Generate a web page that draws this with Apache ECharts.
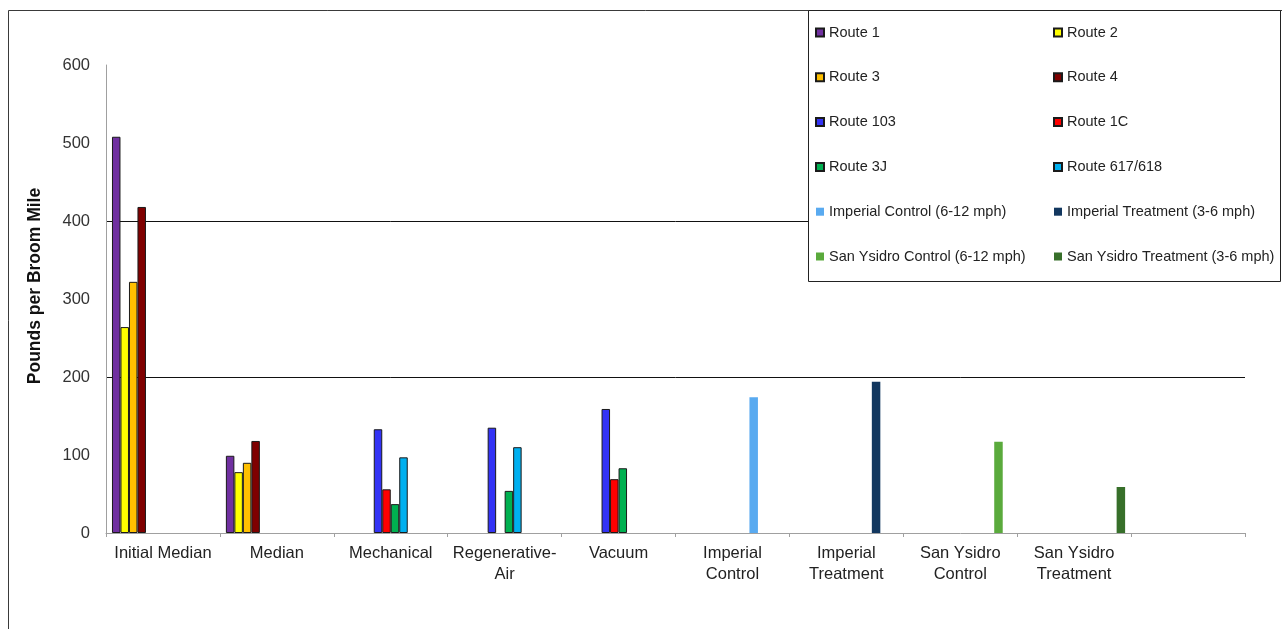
<!DOCTYPE html>
<html>
<head>
<meta charset="utf-8">
<title>Pounds per Broom Mile</title>
<script src="https://cdn.jsdelivr.net/npm/echarts@6/dist/echarts.min.js"></script>
<style>
  html, body { margin: 0; padding: 0; background: #fff; }
  #chart { width: 1282px; height: 629px; }
</style>
</head>
<body>
<div id="chart"></div>
<script>
// categories (last one is an empty slot, as in the original sheet)
const categories = ['Initial Median', 'Median', 'Mechanical', 'Regenerative-\nAir', 'Vacuum',
  'Imperial\nControl', 'Imperial\nTreatment', 'San Ysidro\nControl', 'San Ysidro\nTreatment', '']

// values (pounds per broom mile)
const route1 = [508, 99, null, null, null, null, null, null, null, null]
const route2 = [264, 78, null, null, null, null, null, null, null, null]
const route3 = [322, 90, null, null, null, null, null, null, null, null]
const route4 = [418, 118, null, null, null, null, null, null, null, null]
const route103 = [null, null, 133, 135, 159, null, null, null, null, null]
const route1C = [null, null, 56, null, 69, null, null, null, null, null]
const route3J = [null, null, 37, 54, 83, null, null, null, null, null]
const route617 = [null, null, 97, 110, null, null, null, null, null, null]
const imperialControl = [null, null, null, null, null, 174, null, null, null, null]
const imperialTreatment = [null, null, null, null, null, null, 194, null, null, null]
const sanYsidroControl = [null, null, null, null, null, null, null, 117, null, null]
const sanYsidroTreatment = [null, null, null, null, null, null, null, null, 59, null]

const yTicks = [0, 100, 200, 300, 400, 500, 600]

const seriesDefs = [
  { name: 'Route 1', data: route1, color: '#7030A0', border: true },
  { name: 'Route 2', data: route2, color: '#FFFF00', border: true },
  { name: 'Route 3', data: route3, color: '#FFC000', border: true },
  { name: 'Route 4', data: route4, color: '#7F0000', border: true },
  { name: 'Route 103', data: route103, color: '#3333F5', border: true },
  { name: 'Route 1C', data: route1C, color: '#FF0000', border: true },
  { name: 'Route 3J', data: route3J, color: '#00B050', border: true },
  { name: 'Route 617/618', data: route617, color: '#00B0F0', border: true },
  { name: 'Imperial Control (6-12 mph)', data: imperialControl, color: '#59AAF0', border: false },
  { name: 'Imperial Treatment (3-6 mph)', data: imperialTreatment, color: '#12375F', border: false },
  { name: 'San Ysidro Control (6-12 mph)', data: sanYsidroControl, color: '#5AAA3C', border: false },
  { name: 'San Ysidro Treatment (3-6 mph)', data: sanYsidroTreatment, color: '#376F2A', border: false }
]

const font = '"Liberation Sans", Arial, sans-serif'

const chart = echarts.init(document.getElementById('chart'), null, { renderer: 'canvas' })

const series = seriesDefs.map(s => ({
  name: s.name,
  type: 'bar',
  data: s.data,
  barGap: '0%',
  barCategoryGap: '10.5%',
  animation: false,
  itemStyle: {
    color: s.color,
    borderColor: s.border ? '#1a1a1a' : s.color,
    borderWidth: s.border ? 1 : 0
  }
}))

const legendText = { fontFamily: font, fontSize: 14.5, color: '#222', lineHeight: 14 }

// splitLine colours: only 200 and 400 get a line
const splitColors = yTicks.map(v => (v === 200 || v === 400) ? '#111' : 'rgba(0,0,0,0)')

const option = {
  animation: false,
  backgroundColor: '#fff',
  textStyle: { fontFamily: font },
  grid: {
    left: 106,
    right: 37,
    top: 65,
    bottom: 96
  },
  graphic: [
    {
      type: 'rect',
      z: 1,
      shape: { x: 8.5, y: 10.5, width: 1400, height: 700 },
      style: { fill: 'none', stroke: '#3a3a3a', lineWidth: 1 }
    },
    {
      type: 'rect',
      z: 3,
      shape: { x: 808.5, y: 10.5, width: 472, height: 271 },
      style: { fill: '#fff', stroke: '#222', lineWidth: 1 }
    }
  ],
  legend: [
    {
      orient: 'vertical',
      left: 810,
      top: 20,
      itemWidth: 8,
      itemHeight: 8,
      itemGap: 29.8,
      icon: 'rect',
      textStyle: legendText,
      data: ['Route 1', 'Route 3', 'Route 103', 'Route 3J',
        'Imperial Control (6-12 mph)', 'San Ysidro Control (6-12 mph)']
    },
    {
      orient: 'vertical',
      left: 1048,
      top: 20,
      itemWidth: 8,
      itemHeight: 8,
      itemGap: 29.8,
      icon: 'rect',
      textStyle: legendText,
      data: ['Route 2', 'Route 4', 'Route 1C', 'Route 617/618',
        'Imperial Treatment (3-6 mph)', 'San Ysidro Treatment (3-6 mph)']
    }
  ],
  xAxis: {
    type: 'category',
    data: categories,
    boundaryGap: true,
    axisLine: { show: true, lineStyle: { color: '#a0a0a0', width: 1 } },
    axisTick: { show: true, alignWithLabel: false, length: 4, inside: false, lineStyle: { color: '#a0a0a0' } },
    axisLabel: {
      interval: 0,
      margin: 10,
      fontFamily: font,
      fontSize: 16.5,
      lineHeight: 21,
      color: '#222'
    },
    splitLine: { show: false }
  },
  yAxis: {
    type: 'value',
    min: 0,
    max: 600,
    interval: 100,
    name: 'Pounds per Broom Mile',
    nameLocation: 'middle',
    nameGap: 62,
    nameRotate: 90,
    nameTextStyle: {
      fontFamily: font,
      fontSize: 17.5,
      fontWeight: 'bold',
      color: '#111',
      padding: [0, 0, 0, 26]
    },
    axisLine: { show: true, lineStyle: { color: '#a0a0a0', width: 1 } },
    axisTick: { show: false },
    axisLabel: { margin: 16, fontFamily: font, fontSize: 16.5, color: '#333' },
    splitLine: { show: true, lineStyle: { color: splitColors, width: 1 } }
  },
  series: series
}

chart.setOption(option)
</script>
</body>
</html>
